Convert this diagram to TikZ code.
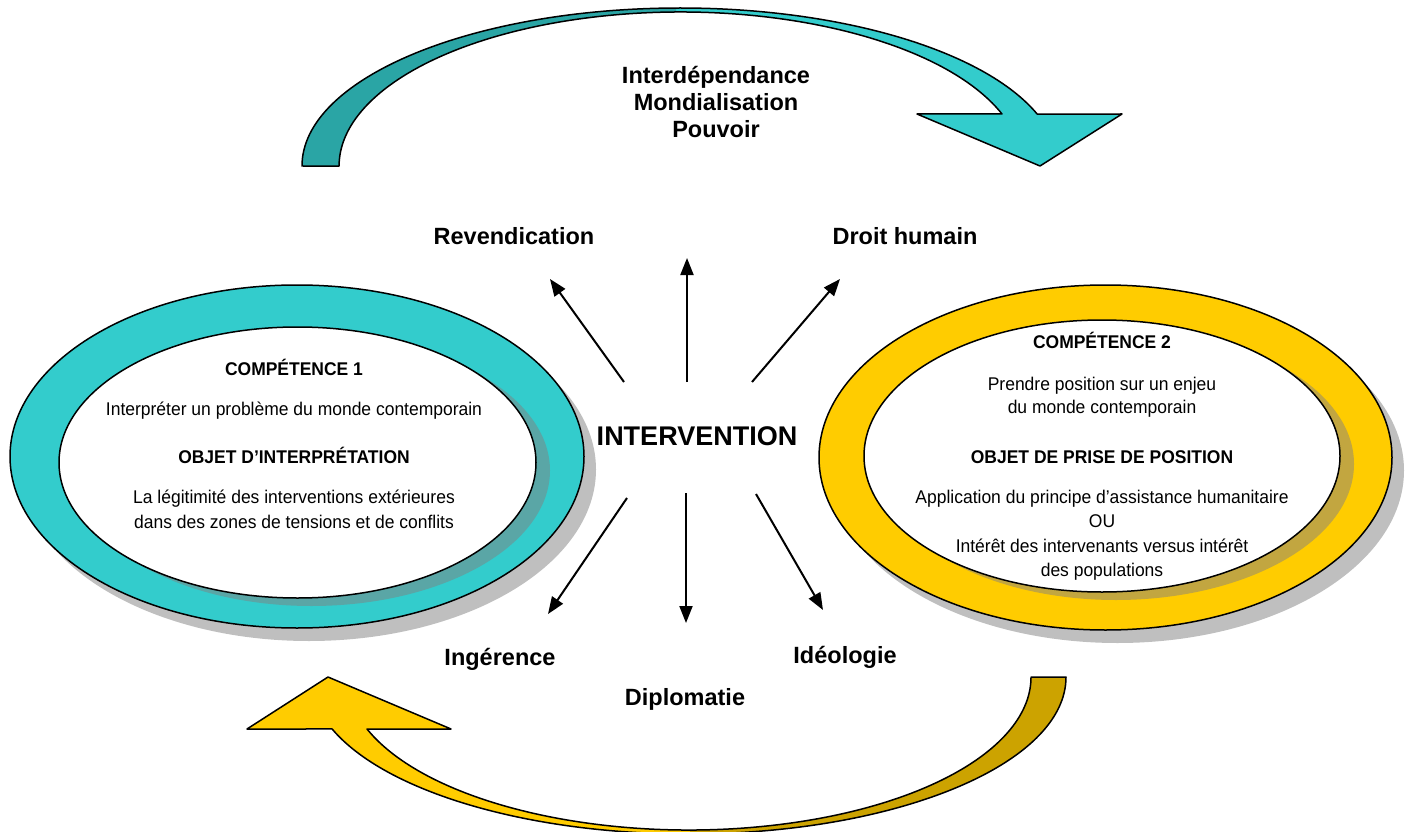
\documentclass[tikz,border=0pt]{standalone}
\usepackage{fontspec}
\setmainfont{Liberation Sans}
\newfontfamily\narrowfont{Liberation Sans}[FakeStretch=0.95]
\usetikzlibrary{arrows.meta}
\definecolor{tealL}{HTML}{33CCCC}
\definecolor{tealD}{HTML}{2AA5A5}
\definecolor{tealS}{HTML}{5AA6A6}
\definecolor{yelL}{HTML}{FFCC00}
\definecolor{yelD}{HTML}{CCA300}
\definecolor{yelS}{HTML}{C2A640}
\definecolor{shadowgray}{HTML}{BFBFBF}
\begin{document}
\begin{tikzpicture}[x=1pt,y=-1pt, line join=round,
  txt/.style={font=\narrowfont\fontsize{18.4}{22}\selectfont, anchor=base, inner sep=0pt},
  txtb/.style={font=\narrowfont\bfseries\fontsize{18.4}{22}\selectfont, anchor=base, inner sep=0pt},
  lab/.style={font=\bfseries\fontsize{23.5}{28}\selectfont, anchor=base, inner sep=0pt},
  biglab/.style={font=\bfseries\fontsize{27}{32}\selectfont, anchor=base, inner sep=0pt},
  ray/.style={line width=2pt, -{Triangle[length=17pt,width=13pt]}},
  outl/.style={draw=black, line width=1.5pt}]
\useasboundingbox (0,0) rectangle (1409,832);

% ---------- top curved arrow (teal) ----------
\def\toparrow{(302,166) arc[start angle=180, end angle=340.8, x radius=378.1, y radius=158]
  -- (1122,114) -- (1040,166) -- (917,114) -- (1002,114)
  arc[start angle=340.26, end angle=180, x radius=341.5, y radius=154] -- cycle}
\fill[tealL] \toparrow;
\begin{scope}
  \clip (0,0) rectangle (676,200);
  \fill[tealD] \toparrow;
\end{scope}
\draw[outl] \toparrow;

% ---------- bottom curved arrow (yellow) ----------
\def\botarrow{(1066,677) arc[start angle=0, end angle=160.66, x radius=377.6, y radius=157]
  -- (247,729) -- (328,677) -- (451,729) -- (367,729)
  arc[start angle=160.13, end angle=0, x radius=342.2, y radius=153] -- cycle}
\fill[yelL] \botarrow;
\begin{scope}
  \clip (690,640) rectangle (1100,840);
  \fill[yelD] \botarrow;
\end{scope}
\draw[outl] \botarrow;

% ---------- left ellipse ----------
\fill[shadowgray] (309,469.5) ellipse[x radius=287, y radius=171.5];
\filldraw[fill=tealL, outl] (297,456.5) ellipse[x radius=287, y radius=171.5];
\fill[tealS] (311.5,470.5) ellipse[x radius=238.5, y radius=135.5];
\filldraw[fill=white, outl] (297.5,462.5) ellipse[x radius=238.5, y radius=135.5];

% ---------- right ellipse ----------
\fill[shadowgray] (1117.5,470.5) ellipse[x radius=286.5, y radius=172.5];
\filldraw[fill=yelL, outl] (1105.5,457.5) ellipse[x radius=286.5, y radius=172.5];
\fill[yelS] (1116,464) ellipse[x radius=238, y radius=136];
\filldraw[fill=white, outl] (1102,456) ellipse[x radius=238, y radius=136];

% ---------- texts in left ellipse ----------
\node[txtb] (c1)  at (294,375) {COMPÉTENCE 1};
\node[txt]  (c1t) at (294,415) {Interpréter un problème du monde contemporain};
\node[txtb] (o1)  at (294,463) {OBJET D’INTERPRÉTATION};
\node[txt]  (o1a) at (294,503) {La légitimité des interventions extérieures};
\node[txt]  (o1b) at (294,528) {dans des zones de tensions et de conflits};

% ---------- texts in right ellipse ----------
\node[txtb] (c2)  at (1102,348) {COMPÉTENCE 2};
\node[txt]  (c2a) at (1102,390) {Prendre position sur un enjeu};
\node[txt]  (c2b) at (1102,413) {du monde contemporain};
\node[txtb] (o2)  at (1102,463) {OBJET DE PRISE DE POSITION};
\node[txt]  (o2a) at (1102,503) {Application du principe d’assistance humanitaire};
\node[txt]  (o2b) at (1102,527) {OU};
\node[txt]  (o2c) at (1102,552) {Intérêt des intervenants versus intérêt};
\node[txt]  (o2d) at (1102,576) {des populations};

% ---------- labels ----------
\node[lab] (l1) at (716,84)  {Interdépendance};
\node[lab] (l2) at (716,111) {Mondialisation};
\node[lab] (l3) at (716,138) {Pouvoir};
\node[lab] (rev) at (514,244) {Revendication};
\node[lab] (dro) at (905,244) {Droit humain};
\node[biglab] (int) at (697,445) {INTERVENTION};
\node[lab] (ing) at (500,665) {Ingérence};
\node[lab] (ide) at (845,663) {Idéologie};
\node[lab] (dip) at (685,705) {Diplomatie};

% ---------- rays ----------
\coordinate (r1s) at (624,382); \coordinate (r1e) at (550,279);
\coordinate (r2s) at (687,382); \coordinate (r2e) at (687,258);
\coordinate (r3s) at (752,382); \coordinate (r3e) at (840,279);
\coordinate (r4s) at (627,498); \coordinate (r4e) at (548,614);
\coordinate (r5s) at (686,493); \coordinate (r5e) at (686,623);
\coordinate (r6s) at (756,494); \coordinate (r6e) at (823,610);
\draw[ray] (r1s) -- (r1e);
\draw[ray] (r2s) -- (r2e);
\draw[ray] (r3s) -- (r3e);
\draw[ray] (r4s) -- (r4e);
\draw[ray] (r5s) -- (r5e);
\draw[ray] (r6s) -- (r6e);
\end{tikzpicture}
\end{document}
